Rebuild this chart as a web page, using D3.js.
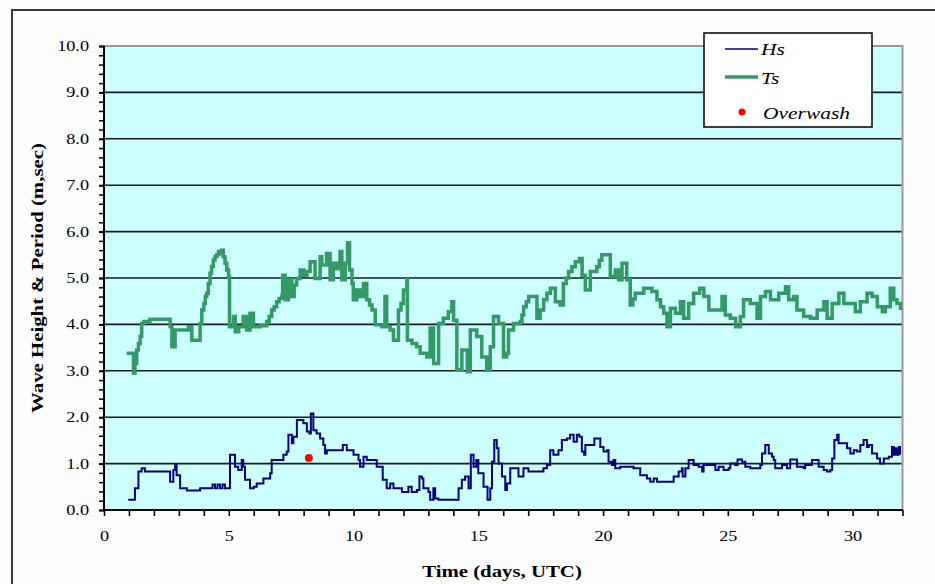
<!DOCTYPE html>
<html>
<head>
<meta charset="utf-8">
<script src="https://cdn.jsdelivr.net/npm/d3@7"></script>
<style>
  html, body { margin: 0; padding: 0; background: #fdfdfd; }
  svg { display: block; }
  text { font-family: "Liberation Serif", "Times New Roman", serif; fill: #000; }
</style>
</head>
<body>
<svg id="chart" width="935" height="584"></svg>
<script>
// Significant wave height Hs (m): time in days, value
const hsTime = [0.97,1.18,1.24,1.38,1.51,1.64,2.58,2.65,2.78,2.85,2.91,3.05,3.32,3.78,3.85,4.25,4.35,4.45,4.55,4.65,4.75,4.85,4.98,5.05,5.18,5.25,5.38,5.52,5.58,5.65,5.85,6.00,6.12,6.39,6.66,6.72,7.06,7.19,7.32,7.39,7.53,7.59,7.73,7.86,7.99,8.13,8.23,8.29,8.39,8.52,8.66,8.79,8.86,8.93,9.53,9.57,9.73,10.00,10.20,10.26,10.40,10.53,10.80,10.93,11.07,11.17,11.33,11.47,11.60,11.80,11.94,12.20,12.33,12.54,12.64,12.74,12.80,13.00,13.07,13.20,13.27,13.40,14.14,14.21,14.34,14.47,14.61,14.70,14.81,14.92,15.00,15.21,15.37,15.48,15.55,15.64,15.74,15.81,15.95,16.08,16.15,16.28,16.55,16.61,16.81,17.01,17.48,17.61,17.75,17.88,18.01,18.21,18.35,18.55,18.68,18.82,18.95,19.05,19.15,19.24,19.29,19.62,19.65,19.89,20.02,20.16,20.22,20.36,20.42,20.49,20.69,21.22,21.49,21.76,21.89,22.03,22.16,22.70,22.83,23.03,23.16,23.19,23.30,23.43,23.55,23.63,23.83,23.97,24.03,24.30,24.50,24.63,24.83,25.03,25.10,25.30,25.39,25.57,25.70,25.90,26.17,26.30,26.37,26.50,26.64,26.77,26.84,26.90,27.04,27.17,27.37,27.50,27.70,27.77,28.04,28.10,28.30,28.37,28.57,28.64,28.84,28.97,29.11,29.18,29.27,29.38,29.44,29.64,29.78,29.91,30.05,30.18,30.31,30.44,30.58,30.65,30.78,30.98,31.10,31.25,31.45,31.58,31.65,31.72,31.78,31.85,31.90];
const hsValue = [0.22,0.22,0.47,0.83,0.90,0.83,0.83,0.61,0.86,0.97,0.75,0.47,0.42,0.42,0.47,0.47,0.55,0.47,0.55,0.47,0.55,0.47,0.47,1.19,1.19,0.93,0.86,1.08,0.93,0.65,0.47,0.50,0.57,0.68,0.79,1.08,1.08,1.19,1.26,1.62,1.44,1.58,1.94,1.94,1.87,1.69,1.65,2.08,1.72,1.65,1.54,1.40,1.22,1.29,1.29,1.40,1.29,1.19,1.08,0.93,1.15,1.08,1.08,0.93,0.93,0.65,0.47,0.57,0.47,0.47,0.39,0.50,0.39,0.43,0.72,0.68,0.47,0.39,0.22,0.47,0.25,0.22,0.22,0.47,0.65,0.72,0.47,1.19,0.93,1.08,0.79,0.50,0.22,0.47,1.04,1.51,1.33,1.00,0.72,0.43,0.57,0.90,0.90,0.72,0.90,0.83,0.83,0.90,0.97,1.29,1.19,1.29,1.51,1.54,1.62,1.47,1.62,1.58,1.26,1.19,1.40,1.40,1.54,1.36,1.26,1.29,1.04,0.97,1.08,0.90,0.93,0.90,0.75,0.68,0.61,0.68,0.61,0.61,0.72,0.83,0.90,0.72,0.90,1.08,1.08,0.97,0.93,0.83,0.97,0.97,0.86,0.93,0.86,0.90,1.00,0.97,1.09,1.04,0.93,0.90,0.90,0.97,1.22,1.40,1.22,1.15,1.08,0.90,0.90,0.97,0.90,1.09,1.09,0.93,0.90,0.97,0.97,1.08,1.08,0.93,0.86,0.83,0.86,1.11,1.51,1.62,1.44,1.44,1.33,1.22,1.29,1.26,1.40,1.51,1.36,1.40,1.22,1.11,1.00,1.11,1.15,1.36,1.19,1.33,1.19,1.36,1.19];

// Significant wave period Ts (sec): time in days, value
const tsTime = [0.91,1.18,1.18,1.24,1.31,1.38,1.45,1.51,1.60,1.84,2.58,2.65,2.72,2.85,3.18,3.38,3.52,3.72,3.85,3.92,4.00,4.06,4.12,4.18,4.25,4.31,4.38,4.45,4.52,4.59,4.65,4.72,4.78,4.85,4.92,4.99,5.03,5.19,5.26,5.40,5.58,5.72,5.85,5.99,6.26,6.52,6.62,6.72,6.82,6.92,7.02,7.13,7.16,7.26,7.39,7.53,7.62,7.72,7.86,8.00,8.13,8.26,8.46,8.66,8.73,8.92,9.06,9.19,9.33,9.46,9.53,9.67,9.76,9.84,9.94,9.99,10.13,10.26,10.40,10.53,10.64,10.74,10.87,11.13,11.26,11.33,11.47,11.60,11.80,11.90,12.00,12.14,12.16,12.34,12.53,12.67,12.94,13.07,13.21,13.41,13.60,13.80,13.94,14.01,14.14,14.34,14.56,14.68,14.94,15.14,15.34,15.48,15.61,15.81,16.01,16.14,16.21,16.41,16.68,16.75,16.82,16.92,17.02,17.35,17.48,17.62,17.75,17.89,18.09,18.28,18.41,18.52,18.62,18.75,18.89,19.06,19.16,19.29,19.49,19.75,19.85,19.95,20.16,20.29,20.49,20.63,20.76,20.95,21.09,21.19,21.29,21.63,21.96,22.16,22.30,22.43,22.56,22.70,22.90,23.10,23.23,23.43,23.63,23.87,24.04,24.24,24.50,24.77,24.90,25.10,25.31,25.50,25.63,25.90,26.17,26.31,26.51,26.71,27.04,27.31,27.44,27.64,27.77,28.04,28.31,28.58,28.85,28.98,29.18,29.45,29.65,29.85,30.11,30.31,30.58,30.78,30.99,31.19,31.31,31.51,31.65,31.78,31.92];
const tsValue = [3.38,3.30,2.95,3.16,3.45,3.59,3.74,4.02,4.06,4.11,4.11,3.95,3.52,3.88,3.88,3.95,3.66,3.66,4.02,4.31,4.45,4.60,4.67,4.88,5.10,5.25,5.39,5.46,5.50,5.57,5.53,5.60,5.46,5.32,5.17,5.03,3.95,4.17,3.84,3.95,4.17,3.88,4.24,3.95,3.97,4.06,4.17,4.31,4.38,4.49,4.56,4.63,5.06,4.53,4.96,4.60,4.85,4.99,5.17,5.06,5.14,5.35,4.99,5.46,5.28,5.53,4.96,5.32,5.20,5.57,4.96,5.32,5.76,5.17,4.88,4.53,4.74,4.60,4.88,4.53,4.42,4.31,3.99,3.95,4.60,3.95,3.88,3.66,4.31,4.45,4.74,4.96,3.66,3.59,3.52,3.38,3.30,3.92,3.16,4.02,4.13,4.27,4.49,4.09,3.02,3.45,2.98,3.88,3.74,3.30,3.02,3.52,4.17,4.02,3.30,3.38,3.88,4.02,4.06,4.20,4.38,4.49,4.60,4.13,4.31,4.53,4.67,4.78,4.49,4.42,4.88,5.00,5.14,5.24,5.35,5.42,5.06,4.74,5.14,5.24,5.38,5.50,5.50,5.03,5.17,4.96,5.32,4.96,4.42,4.55,4.67,4.78,4.71,4.53,4.38,4.24,3.95,4.35,4.24,4.49,4.13,4.45,4.67,4.78,4.60,4.31,4.31,4.60,4.20,4.13,3.95,4.17,4.53,4.45,4.13,4.60,4.71,4.53,4.67,4.81,4.53,4.60,4.31,4.17,4.13,4.31,4.49,4.13,4.45,4.67,4.45,4.45,4.27,4.49,4.67,4.60,4.38,4.27,4.38,4.78,4.53,4.45,4.31];

// Overwash event
const overwashTime = [8.21];
const overwashValue = [1.12];

// Axis ticks
const xTickValues = [0, 5, 10, 15, 20, 25, 30];
const yTickValues = [0, 1, 2, 3, 4, 5, 6, 7, 8, 9, 10];

const legendLabels = ["Hs", "Ts", "Overwash"];

const svg = d3.select("#chart");
const W = 935, H = 584;
const plot = { left: 104, top: 46, right: 902.5, bottom: 510 };

// the lettering is set wide: widen each text run by this factor
const TEXT_WIDEN = 1.3;
function widen(sel) {
  sel.each(function () {
    const w = this.getComputedTextLength();
    d3.select(this).attr("textLength", w * TEXT_WIDEN).attr("lengthAdjust", "spacingAndGlyphs");
  });
}

const x = d3.scaleLinear().domain([0, 32]).range([plot.left, plot.right]);
const y = d3.scaleLinear().domain([0, 10]).range([plot.bottom, plot.top]);

// outer chart frame (left and top edges visible)
svg.append("path")
  .attr("d", `M12,${H} L12,10 L${W},10`)
  .attr("fill", "none").attr("stroke", "#3a3a3a").attr("stroke-width", 2);

// plot background
svg.append("rect")
  .attr("x", plot.left).attr("y", plot.top)
  .attr("width", plot.right - plot.left).attr("height", plot.bottom - plot.top)
  .attr("fill", "#ccffff");

// horizontal gridlines
svg.append("g").selectAll("line")
  .data(yTickValues.filter(v => v > 0 && v < 10))
  .join("line")
  .attr("x1", plot.left).attr("x2", plot.right)
  .attr("y1", d => y(d)).attr("y2", d => y(d))
  .attr("stroke", "#1a1a1a").attr("stroke-width", 1.6);

// plot border top/right (grey)
svg.append("path")
  .attr("d", `M${plot.left},${plot.top} L${plot.right},${plot.top} L${plot.right},${plot.bottom}`)
  .attr("fill", "none").attr("stroke", "#9a9a9a").attr("stroke-width", 2);

// series
const tsData = tsTime.map((t, i) => [t, tsValue[i]]);
const hsData = hsTime.map((t, i) => [t, hsValue[i]]);

svg.append("path")
  .datum(tsData)
  .attr("fill", "none")
  .attr("stroke", "#339966")
  .attr("stroke-width", 3.5)
  .attr("stroke-linejoin", "miter")
  .attr("d", d3.line().curve(d3.curveStepAfter).x(d => x(d[0])).y(d => y(d[1])));

svg.append("path")
  .datum(hsData)
  .attr("fill", "none")
  .attr("stroke", "#000080")
  .attr("stroke-width", 2)
  .attr("d", d3.line().curve(d3.curveStepAfter).x(d => x(d[0])).y(d => y(d[1])));

svg.append("g").selectAll("circle")
  .data(overwashTime.map((t, i) => [t, overwashValue[i]]))
  .join("circle")
  .attr("cx", d => x(d[0])).attr("cy", d => y(d[1]))
  .attr("r", 4).attr("fill", "#ff0000");

// y axis
const yAxis = svg.append("g").attr("transform", `translate(${plot.left},0)`);
yAxis.append("g")
  .call(d3.axisLeft(y).tickValues(d3.range(0, 10.01, 0.2)).tickSize(5).tickFormat(""))
  .call(g => g.select(".domain").remove())
  .call(g => g.selectAll("line").attr("stroke", "#000").attr("stroke-width", 1.5));
yAxis.append("g")
  .call(d3.axisLeft(y).tickValues(yTickValues).tickSize(5).tickPadding(10).tickFormat(d3.format(".1f")))
  .call(g => g.select(".domain").remove())
  .call(g => g.selectAll("line").attr("stroke", "#000").attr("stroke-width", 2))
  .call(g => g.selectAll("text").attr("font-size", 14).attr("font-family", "Liberation Serif").call(widen));
yAxis.append("line")
  .attr("y1", plot.top).attr("y2", plot.bottom + 1)
  .attr("stroke", "#000").attr("stroke-width", 2);

// x axis
const xAxis = svg.append("g").attr("transform", `translate(0,${plot.bottom})`);
xAxis.append("g")
  .call(d3.axisBottom(x).tickValues(d3.range(0, 33, 1)).tickSize(6).tickFormat(""))
  .call(g => g.select(".domain").remove())
  .call(g => g.selectAll("line").attr("stroke", "#000").attr("stroke-width", 1.6));
xAxis.append("g")
  .call(d3.axisBottom(x).tickValues(xTickValues).tickSize(0).tickPadding(21).tickFormat(d3.format("d")))
  .call(g => g.select(".domain").remove())
  .call(g => g.selectAll("text").attr("font-size", 14).attr("font-family", "Liberation Serif").call(widen));
xAxis.append("line")
  .attr("x1", plot.left - 1).attr("x2", plot.right)
  .attr("stroke", "#000").attr("stroke-width", 2);

// axis titles
svg.append("text")
  .attr("x", 502)
  .attr("y", 577)
  .attr("text-anchor", "middle")
  .attr("font-weight", "bold")
  .attr("font-size", 16)
  .text("Time (days, UTC)")
  .call(widen);

svg.append("text")
  .attr("transform", `translate(43,${(plot.top + plot.bottom) / 2}) rotate(-90)`)
  .attr("text-anchor", "middle")
  .attr("font-weight", "bold")
  .attr("font-size", 16)
  .text("Wave Height & Period (m,sec)")
  .call(widen);

// legend
const lg = svg.append("g").attr("transform", "translate(704,33)");
lg.append("rect")
  .attr("width", 168).attr("height", 94)
  .attr("fill", "#fff").attr("stroke", "#000").attr("stroke-width", 1.5);
lg.append("line").attr("x1", 21).attr("x2", 54).attr("y1", 16).attr("y2", 16)
  .attr("stroke", "#000080").attr("stroke-width", 1.5);
lg.append("line").attr("x1", 21).attr("x2", 54).attr("y1", 44).attr("y2", 44)
  .attr("stroke", "#339966").attr("stroke-width", 3.5);
lg.append("circle").attr("cx", 38).attr("cy", 79).attr("r", 3.5).attr("fill", "#ff0000");
lg.selectAll("text.item")
  .data(legendLabels)
  .join("text")
  .attr("class", "item")
  .attr("x", d => d === "Overwash" ? 59 : 57)
  .attr("y", (d, i) => [22, 51, 86][i])
  .attr("font-style", "italic")
  .attr("font-size", 16.5)
  .text(d => d)
  .call(widen);
</script>
</body>
</html>
